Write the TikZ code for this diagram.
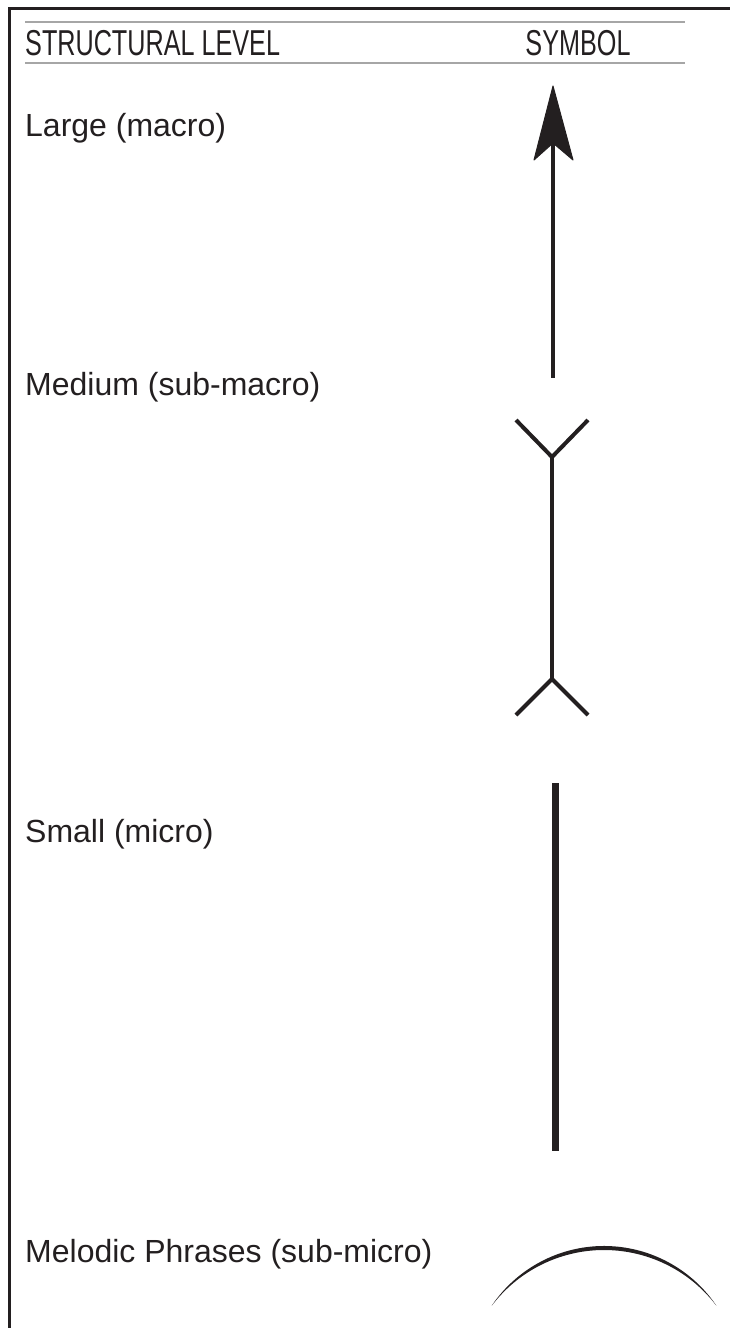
\documentclass[tikz,border=0pt]{standalone}
\usepackage{fontspec}
\setmainfont{Liberation Sans}
\newfontfamily\headfont[FakeStretch=0.7]{Liberation Sans}
\definecolor{ink}{HTML}{231F20}
\definecolor{rule}{HTML}{A6A6A6}
\begin{document}
\begin{tikzpicture}[x=1pt,y=-1pt,
  frameline/.style={draw=ink,line width=3pt},
  headrule/.style={draw=rule,line width=1.3pt},
  headtext/.style={anchor=base west,inner sep=0pt,text=ink,font=\headfont\fontsize{36}{42}\selectfont},
  leveltext/.style={anchor=base west,inner sep=0pt,text=ink,font=\fontsize{32}{38}\selectfont},
  symline/.style={draw=ink,line width=4pt},
  barline/.style={draw=ink,line width=7pt},
  headfill/.style={fill=ink,draw=ink,line width=1pt,line join=round}]
\useasboundingbox (0,0) rectangle (730,1328);

% open frame: top and left edges
\coordinate (fTL) at (9,8);
\coordinate (fTR) at (730,8);
\coordinate (fBL) at (9,1328);
\draw[frameline] (fTR) -- (fTL) -- (fBL);

% header rules
\coordinate (r1a) at (25,22);  \coordinate (r1b) at (685,22);
\coordinate (r2a) at (25,63);  \coordinate (r2b) at (685,63);
\draw[headrule] (r1a) -- (r1b);
\draw[headrule] (r2a) -- (r2b);

% header
\node[headtext] (hLevel) at (25,55.5) {STRUCTURAL LEVEL};
\node[headtext,anchor=base] (hSymbol) at (578,55.5) {SYMBOL};

% level names
\node[leveltext] (lLarge)  at (25,136)  {Large (macro)};
\node[leveltext] (lMedium) at (25,395)  {Medium (sub-macro)};
\node[leveltext] (lSmall)  at (25,842)  {Small (micro)};
\node[leveltext] (lPhrase) at (25,1262) {Melodic Phrases (sub-micro)};

% large: arrow
\coordinate (aTip)   at (553,86);
\coordinate (aLeft)  at (534,160);
\coordinate (aRight) at (573,160);
\coordinate (aNotch) at (553,143);
\coordinate (aFoot)  at (553,378);
\draw[symline] (aNotch) -- (aFoot);
\path[headfill] (aTip) -- (aRight) -- (aNotch) -- (aLeft) -- cycle;

% medium: forked both ends
\coordinate (mTop)  at (552,457);
\coordinate (mTL)   at (516,420);
\coordinate (mTR)   at (588,420);
\coordinate (mBot)  at (552,679);
\coordinate (mBL)   at (516,715);
\coordinate (mBR)   at (588,715);
\draw[symline,line join=miter] (mTL) -- (mTop) -- (mTR);
\draw[symline] (mTop) -- (mBot);
\draw[symline,line join=miter] (mBL) -- (mBot) -- (mBR);

% small: plain bar
\coordinate (sTop) at (555,783);
\coordinate (sBot) at (555,1151);
\draw[barline] (sTop) -- (sBot);

% melodic phrase: tapered arc
\coordinate (pL) at (491.7,1305.7);
\fill[ink] (pL) arc[start angle=-146,end angle=-34,radius=135.5]
  arc[start angle=-37.23,end angle=-142.77,radius=141.05] -- cycle;
\end{tikzpicture}
\end{document}
